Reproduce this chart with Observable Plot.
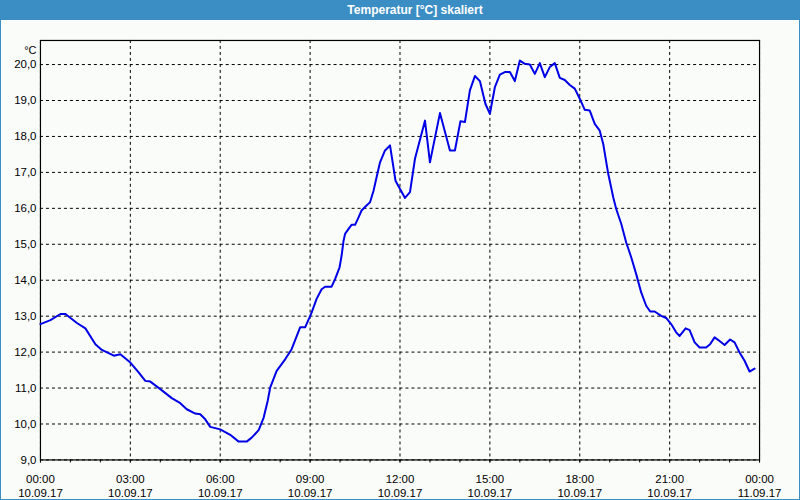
<!DOCTYPE html>
<html>
<head>
<meta charset="utf-8">
<script src="https://cdn.jsdelivr.net/npm/d3@7"></script>
<script src="https://cdn.jsdelivr.net/npm/@observablehq/plot@0.6"></script>
<style>
  html, body { margin: 0; padding: 0; background: #3b8ec4; }
  #win { position: relative; width: 800px; height: 500px; background: #3b8ec4; overflow: hidden; font-family: "Liberation Sans", Arial, sans-serif; }
  #title { position: absolute; left: 0; top: 0; width: 830px; height: 20px; line-height: 20px; text-align: center; color: #ffffff; font-weight: bold; font-size: 12px; }
  #content { position: absolute; left: 1px; top: 20px; width: 798px; height: 479px; background: #fafcfa; }
  #chart { position: absolute; left: -1px; top: 0; }
</style>
</head>
<body>
<div id="win">
  <div id="title">Temperatur [°C] skaliert</div>
  <div id="content"><div id="chart"></div></div>
</div>
<script>
// time in minutes since 10.09.17 00:00
const minutes = [0, 20, 40, 50, 73, 90, 110, 123, 147, 160, 180, 197, 210, 220, 240, 263, 280, 293, 310, 320,
  330, 340, 360, 380, 397, 413, 423, 437, 447, 455, 460, 473, 490, 503, 520, 530, 543, 553, 563, 570,
  583, 590, 599, 603, 607, 610, 617, 623, 630, 637, 643, 653, 660, 667, 673, 680, 690, 700, 711, 730,
  740, 750, 770, 780, 800, 820, 830, 841, 850, 860, 870, 880, 891, 900, 910, 920, 930, 940, 950, 960,
  970, 980, 990, 1000, 1010, 1020, 1030, 1040, 1050, 1060, 1070, 1080, 1090, 1100, 1110, 1120, 1127, 1137, 1147, 1153,
  1163, 1173, 1183, 1193, 1203, 1213, 1221, 1230, 1243, 1253, 1263, 1273, 1280, 1292, 1300, 1310, 1320, 1333, 1341, 1350,
  1360, 1370, 1381, 1390, 1400, 1410, 1420, 1430];
const temperature = [12.78, 12.89, 13.06, 13.06, 12.81, 12.66, 12.22, 12.06, 11.90, 11.94, 11.71, 11.43, 11.20, 11.18, 10.97, 10.72, 10.58, 10.41, 10.29, 10.27,
  10.13, 9.92, 9.85, 9.70, 9.51, 9.51, 9.62, 9.83, 10.18, 10.64, 11.01, 11.48, 11.80, 12.08, 12.69, 12.69, 13.10, 13.48, 13.75, 13.82,
  13.82, 14.03, 14.36, 14.68, 15.10, 15.29, 15.43, 15.54, 15.54, 15.75, 15.94, 16.08, 16.17, 16.49, 16.86, 17.28, 17.61, 17.75, 16.77, 16.29,
  16.45, 17.38, 18.44, 17.28, 18.65, 17.61, 17.61, 18.42, 18.40, 19.28, 19.68, 19.54, 18.91, 18.63, 19.37, 19.72, 19.79, 19.79, 19.54, 20.11,
  20.02, 20.00, 19.74, 20.04, 19.65, 19.93, 20.04, 19.63, 19.57, 19.43, 19.33, 19.05, 18.74, 18.72, 18.35, 18.16, 17.79, 16.96, 16.31, 15.98,
  15.57, 15.05, 14.64, 14.17, 13.66, 13.29, 13.13, 13.13, 13.01, 12.95, 12.78, 12.55, 12.45, 12.66, 12.61, 12.27, 12.13, 12.13, 12.22, 12.41,
  12.31, 12.20, 12.35, 12.27, 11.99, 11.76, 11.46, 11.54];

const xTicks = [0, 180, 360, 540, 720, 900, 1080, 1260, 1440];
const xTickLabels = ["00:00\n10.09.17", "03:00\n10.09.17", "06:00\n10.09.17", "09:00\n10.09.17", "12:00\n10.09.17",
  "15:00\n10.09.17", "18:00\n10.09.17", "21:00\n10.09.17", "00:00\n11.09.17"];
const xMinorTicks = d3.range(0, 1441, 60);
const yTicks = [9, 10, 11, 12, 13, 14, 15, 16, 17, 18, 19, 20];
const yUnit = "°C";

const data = minutes.map((m, i) => ({m, t: temperature[i]}));
const labelOf = new Map(xTicks.map((t, i) => [t, xTickLabels[i]]));

const chart = Plot.plot({
  width: 800,
  height: 480,
  marginLeft: 40,
  marginRight: 40,
  marginTop: 20,
  marginBottom: 40,
  style: {fontFamily: "Liberation Sans, Arial, sans-serif", fontSize: "11px", background: "transparent", color: "#000"},
  x: {domain: [0, 1440]},
  y: {domain: [9, 20.67]},
  marks: [
    Plot.gridX(xTicks, {stroke: "#000", strokeOpacity: 1, strokeDasharray: "3,3"}),
    Plot.gridY(yTicks, {stroke: "#000", strokeOpacity: 1, strokeDasharray: "3,3"}),
    Plot.frame({stroke: "#000", strokeWidth: 1.2}),
    Plot.axisX({ticks: xMinorTicks, tickSize: 3, tickFormat: () => "", label: null}),
    Plot.axisX({ticks: xTicks, tickSize: 3, tickPadding: 9, tickFormat: d => labelOf.get(d), lineHeight: 1.3, fontSize: 11.5, label: null}),
    Plot.axisY({ticks: yTicks, tickSize: 0, tickPadding: 4, tickFormat: d => d.toFixed(1).replace(".", ","), fontSize: 11.5, label: null}),
    Plot.text([yUnit], {frameAnchor: "top-left", text: d => d, dx: -4, dy: 6, textAnchor: "end", fontSize: 11}),
    Plot.line(data, {x: "m", y: "t", stroke: "#0000e6", strokeWidth: 2})
  ]
});
document.getElementById("chart").appendChild(chart);
</script>
</body>
</html>
